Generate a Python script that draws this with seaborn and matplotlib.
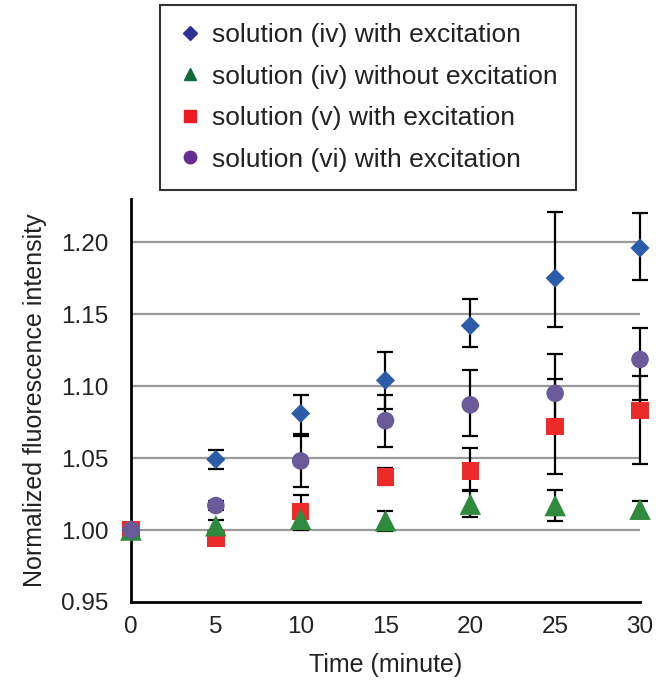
import pandas as pd
import matplotlib
matplotlib.use("Agg")
import matplotlib.pyplot as plt
import seaborn as sns
from matplotlib.lines import Line2D

sns.set_style("white")
plt.rcParams['font.family'] = ['Liberation Sans', 'DejaVu Sans']

# data
time_min = [0, 5, 10, 15, 20, 25, 30]

iv_exc = [1.000, 1.049, 1.081, 1.104, 1.142, 1.175, 1.196]
iv_exc_lo = [0.000, 0.0065, 0.014, 0.020, 0.015, 0.034, 0.022]
iv_exc_hi = [0.000, 0.0065, 0.013, 0.020, 0.0185, 0.046, 0.024]

iv_noexc = [1.000, 1.003, 1.0075, 1.0065, 1.018, 1.017, 1.0145]
iv_noexc_err = [0.000, 0.004, 0.0075, 0.007, 0.009, 0.011, 0.006]

v_exc = [1.000, 0.994, 1.013, 1.037, 1.041, 1.072, 1.083]
v_exc_lo = [0.000, 0.0035, 0.011, 0.006, 0.013, 0.033, 0.037]
v_exc_hi = [0.000, 0.0035, 0.011, 0.006, 0.016, 0.033, 0.024]

vi_exc = [1.000, 1.017, 1.048, 1.076, 1.087, 1.095, 1.1185]
vi_exc_lo = [0.000, 0.003, 0.018, 0.018, 0.022, 0.027, 0.028]
vi_exc_hi = [0.000, 0.003, 0.0174, 0.018, 0.024, 0.027, 0.022]

labels = ["solution (iv) with excitation",
          "solution (iv) without excitation",
          "solution (v) with excitation",
          "solution (vi) with excitation"]

fig = plt.figure(figsize=(6.56, 6.83), dpi=100)
ax = fig.add_axes([0.1997, 0.1186, 0.7759, 0.590])

for y in [1.00, 1.05, 1.10, 1.15, 1.20]:
    ax.axhline(y, color="#9a9a9a", lw=1.6, zorder=0)

# error bars first, markers on top
series = [
    (v_exc, [v_exc_lo, v_exc_hi], "s", "#ee2b2b", 160),
    (iv_noexc, [iv_noexc_err, iv_noexc_err], "^", "#2f8a3e", 240),
    (iv_exc, [iv_exc_lo, iv_exc_hi], "D", "#2a5caa", 95),
    (vi_exc, [vi_exc_lo, vi_exc_hi], "o", "#6b5a99", 160),
]
for vals, err, m, c, s in series:
    ax.errorbar(time_min, vals, yerr=err, fmt="none", ecolor="black",
                elinewidth=1.6, capsize=5.7, capthick=1.6, zorder=2, clip_on=False)
for i, (vals, err, m, c, s) in enumerate(series):
    df = pd.DataFrame({"t": time_min, "v": vals})
    sns.scatterplot(data=df, x="t", y="v", marker=m, color=c, s=s,
                    edgecolor="none", ax=ax, zorder=3 + i, clip_on=False, legend=False)

ax.set_xlim(0, 30)
ax.set_ylim(0.95, 1.23)
ax.set_xticks(time_min)
ax.set_yticks([0.95, 1.00, 1.05, 1.10, 1.15, 1.20])
ax.set_yticklabels(["0.95", "1.00", "1.05", "1.10", "1.15", "1.20"])
ax.tick_params(axis="x", direction="in", length=6, width=1.5, pad=10,
               labelsize=17.5, colors="black", labelcolor="#222222")
ax.tick_params(axis="y", length=0, pad=16, labelsize=17.5, labelcolor="#222222")
ax.set_xlabel("Time (minute)", fontsize=18, color="#222222", labelpad=11)
ax.set_ylabel("Normalized fluorescence intensity", fontsize=18, color="#222222", labelpad=10)

sns.despine(ax=ax)
for side in ["left", "bottom"]:
    ax.spines[side].set_color("black")
    ax.spines[side].set_linewidth(2)

handles = [
    Line2D([], [], ls="none", marker="D", color="#2e3192", markersize=7),
    Line2D([], [], ls="none", marker="^", color="#0b6b3a", markersize=8),
    Line2D([], [], ls="none", marker="s", color="#ed1c24", markersize=8),
    Line2D([], [], ls="none", marker="o", color="#662d91", markersize=9),
]
leg = fig.legend(handles, labels, loc="upper left", bbox_to_anchor=(0.244, 0.993),
                 fontsize=19, frameon=True, fancybox=False, edgecolor="black",
                 handlelength=0.9, handletextpad=0.35, labelspacing=0.66,
                 borderpad=0.7, borderaxespad=0)
leg.get_frame().set_linewidth(1.5)
for t in leg.get_texts():
    t.set_color("#222222")

fig.savefig("out.png", dpi=100)
